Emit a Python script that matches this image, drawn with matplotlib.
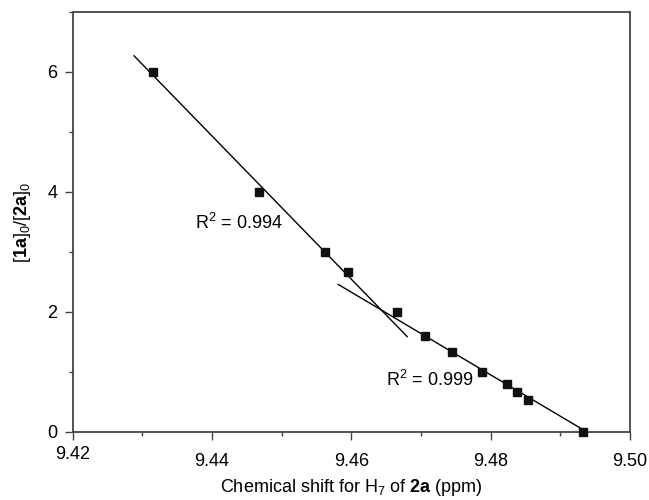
import matplotlib
matplotlib.use("Agg")
import matplotlib.pyplot as plt
from matplotlib.ticker import MultipleLocator

plt.rcParams["font.family"] = ["Liberation Sans", "DejaVu Sans"]
plt.rcParams["mathtext.fontset"] = "custom"
plt.rcParams["mathtext.rm"] = "Liberation Sans"
plt.rcParams["mathtext.it"] = "Liberation Sans:italic"
plt.rcParams["mathtext.bf"] = "Liberation Sans:bold"

# measured points
shift = [9.4315, 9.4467, 9.4562, 9.4595, 9.4666, 9.4706,
         9.4745, 9.4787, 9.4823, 9.4837, 9.4854, 9.4932]
ratio = [6.0, 4.0, 3.0, 2.67, 2.0, 1.6, 1.33, 1.0, 0.8, 0.67, 0.53, 0.0]

# linear fits, drawn between their end points
fit1_x = [9.4288, 9.4680]
fit1_y = [6.27, 1.59]
fit2_x = [9.4581, 9.4938]
fit2_y = [2.46, 0.0]

r2_labels = ["R$^2$ = 0.994", "R$^2$ = 0.999"]
r2_pos = [(9.4375, 3.48), (9.4650, 0.87)]

fig = plt.figure(figsize=(6.49, 5.0), dpi=100)
ax = fig.add_axes([0.112, 0.136, 0.859, 0.840])

ax.plot(fit1_x, fit1_y, color="black", linewidth=1.0)
ax.plot(fit2_x, fit2_y, color="black", linewidth=1.0)
ax.plot(shift, ratio, linestyle="none", marker="s", markersize=6.3,
        color="#111111", clip_on=False, zorder=3)

for label, (x, y) in zip(r2_labels, r2_pos):
    ax.text(x, y, label, fontsize=13, ha="left", va="center")

ax.set_xlim(9.42, 9.50)
ax.set_ylim(0, 7)
ax.xaxis.set_major_locator(MultipleLocator(0.02))
ax.xaxis.set_minor_locator(MultipleLocator(0.01))
ax.yaxis.set_major_locator(MultipleLocator(2))
ax.yaxis.set_minor_locator(MultipleLocator(1))
ax.set_xticks([9.42, 9.44, 9.46, 9.48, 9.50])
ax.set_xticklabels(["9.42", "9.44", "9.46", "9.48", "9.50"])

for sp in ax.spines.values():
    sp.set_color("#444444")
    sp.set_linewidth(1.3)
ax.tick_params(which="major", direction="out", length=6, width=1.0,
               color="#444444", labelsize=13)
ax.tick_params(which="minor", direction="out", length=3, width=1.0,
               color="#444444")
ax.tick_params(axis="x", which="major", pad=9)
ax.tick_params(axis="y", which="major", pad=5)
ax.xaxis.get_major_ticks()[0].set_pad(4)

ax.set_xlabel("Chemical shift for H$_7$ of $\\mathbf{2a}$ (ppm)", fontsize=13,
              labelpad=5)
ax.set_ylabel("[$\\mathbf{1a}$]$_0$/[$\\mathbf{2a}$]$_0$", fontsize=13,
              labelpad=10)

fig.savefig("out.png", dpi=100)
plt.close(fig)
